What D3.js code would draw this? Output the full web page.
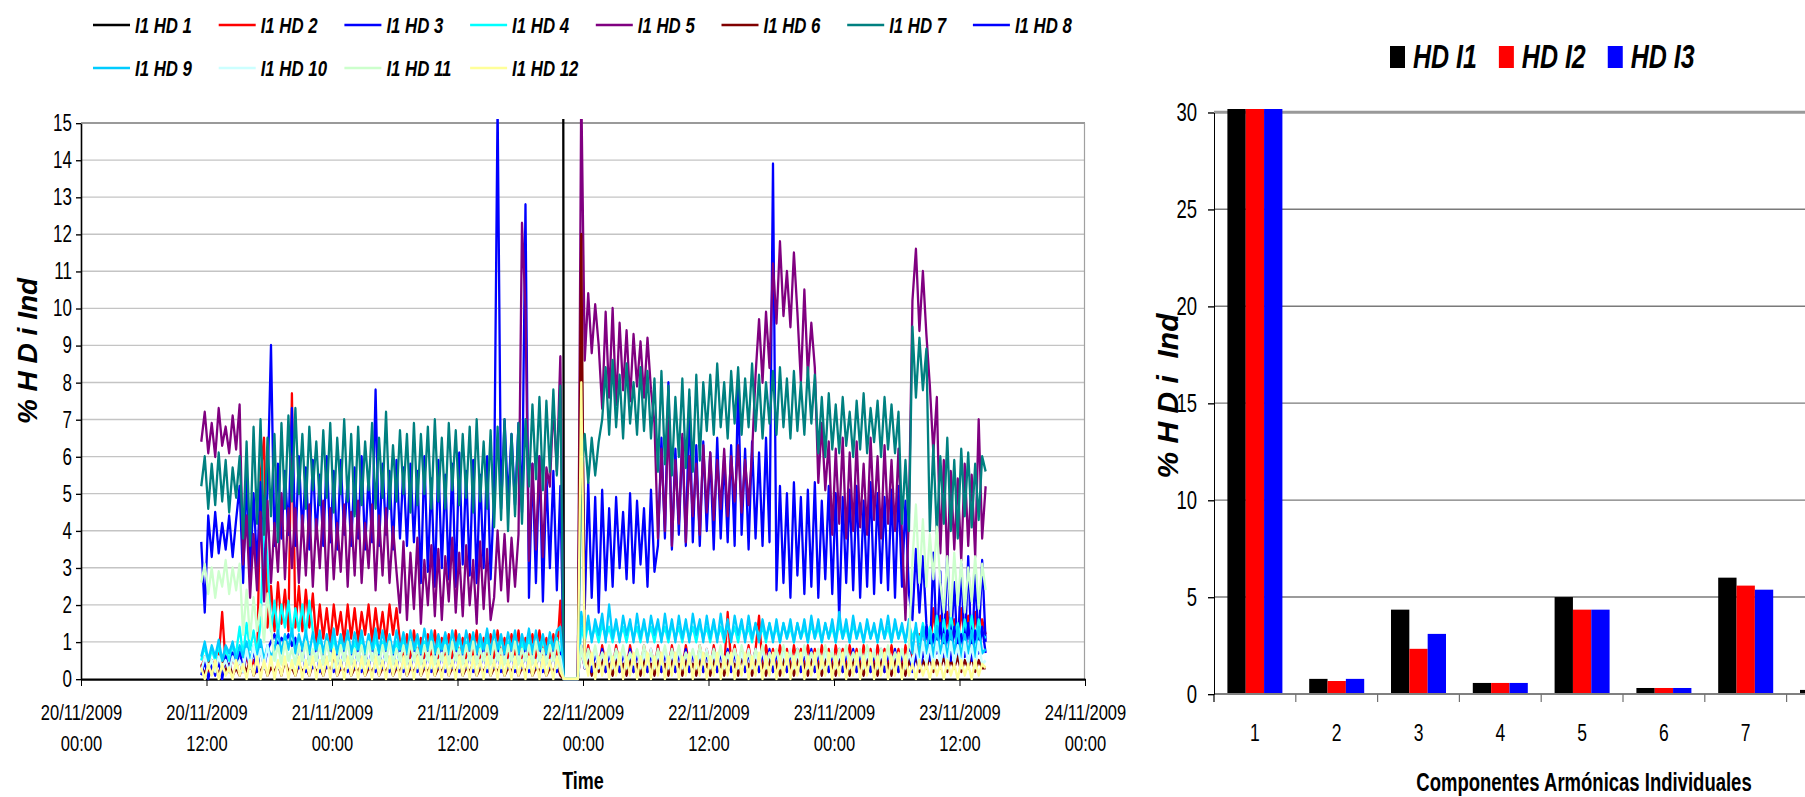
<!DOCTYPE html>
<html>
<head>
<meta charset="utf-8">
<script src="https://cdn.jsdelivr.net/npm/d3@7"></script>
<style>
  body { margin: 0; background: #fff; }
  svg { display: block; font-family: "Liberation Sans", Arial, sans-serif; }
</style>
</head>
<body>
<div id="chart"></div>
<script>
const width = 1805;
const height = 797;
const K = 1.36;            // the source picture is stretched vertically
const Y = v => v / K;      // picture row -> drawing row

// ---------- left chart data: one sample every 20 min from 20/11/2009 11:30 ----------
const seriesNames = ["I1 HD 1", "I1 HD 2", "I1 HD 3", "I1 HD 4", "I1 HD 5", "I1 HD 6",
  "I1 HD 7", "I1 HD 8", "I1 HD 9", "I1 HD 10", "I1 HD 11", "I1 HD 12"];
const sampleStart = "2009-11-20T11:30Z";
const sampleStepMinutes = 20;
const timeTicks = ["2009-11-20T00:00Z", "2009-11-20T12:00Z", "2009-11-21T00:00Z", "2009-11-21T12:00Z",
  "2009-11-22T00:00Z", "2009-11-22T12:00Z", "2009-11-23T00:00Z", "2009-11-23T12:00Z", "2009-11-24T00:00Z"];
const pctTicks = [0, 1, 2, 3, 4, 5, 6, 7, 8, 9, 10, 11, 12, 13, 14, 15];

const hd1 = [
  100,100,100,100,100,100,100,100,100,100,100,100,100,100,100,
  100,100,100,100,100,100,100,100,100,100,100,100,100,100,100,
  100,100,100,100,100,100,100,100,100,100,100,100,100,100,100,
  100,100,100,100,100,100,100,100,100,100,100,100,100,100,100,
  100,100,100,100,100,100,100,100,100,100,100,100,100,100,100,
  100,100,100,100,100,100,100,100,100,100,100,100,100,100,100,
  100,100,100,100,100,100,100,100,100,100,100,100,100,100,0,
  0,0,0,null,100,100,100,100,100,100,100,100,100,100,100,
  100,100,100,100,100,100,100,100,100,100,100,100,100,100,100,
  100,100,100,100,100,100,100,100,100,100,100,100,100,100,100,
  100,100,100,100,100,100,100,100,100,100,100,100,100,100,100,
  100,100,100,100,100,100,100,100,100,100,100,100,100,100,100,
  100,100,100,100,100,100,100,100,100,100,100,100,100,100,100,
  100,100,100,100,100,100,100,100,100,100,100,100,100,100,100,
  100,100,100,100,100,100,100,100,100,100,100,100,100,100,100,
  100];
const hd2 = [
  0.3,0.6,0.2,0.5,0.3,0.6,1.8,0.4,0.2,0.6,0.3,0.5,0.2,0.6,0.3,
  0.5,0.2,5.5,6.5,1.4,2.5,1.3,2.6,1.5,2.4,1.3,7.7,1.4,2.5,1.3,
  2.4,1.4,2.3,1.0,2.0,1.1,1.9,1.0,2.0,1.2,1.8,1.0,2.0,1.1,1.9,
  1.0,1.8,1.2,2.0,1.0,1.9,1.1,1.8,1.0,2.0,1.2,1.9,1.0,0.6,1.2,
  0.5,1.3,0.6,1.1,0.5,1.2,0.6,1.3,0.5,1.1,0.6,1.2,0.5,1.3,0.6,
  1.1,0.5,1.2,0.6,1.3,0.5,1.1,0.6,1.2,0.5,1.3,0.6,1.1,0.5,1.2,
  0.6,1.3,0.5,1.1,0.6,1.2,0.5,1.3,0.6,1.1,0.5,1.2,0.6,2.1,0,
  0,0,0,0,0.8,0.3,0.9,0.4,0.8,0.3,0.9,0.4,0.8,0.3,0.9,
  0.4,0.8,0.3,0.9,0.4,0.7,0.3,0.9,0.4,0.8,0.3,0.9,0.4,0.8,0.3,
  0.9,0.4,0.8,0.3,0.9,0.4,0.7,0.3,0.9,0.4,0.8,0.3,0.9,0.4,0.8,
  0.3,1.8,0.4,0.9,0.3,0.8,0.4,0.9,0.3,0.8,1.7,0.3,0.9,0.4,0.8,
  0.3,0.9,0.4,0.8,0.3,0.9,0.4,0.8,0.3,0.9,0.4,0.8,0.3,0.9,0.4,
  0.8,0.3,0.9,0.4,0.8,0.3,0.9,0.4,0.8,0.3,0.9,0.4,0.8,0.3,0.9,
  0.4,0.8,0.3,0.9,0.4,0.8,0.3,0.9,0.4,0.8,0.5,1.2,0.6,1.4,0.7,
  1.9,0.9,1.7,1.0,1.8,0.8,1.6,0.9,1.9,1.0,1.7,0.8,1.8,0.9,1.6,
  1.2];
const hd3 = [
  3.7,1.8,4.4,3.3,4.5,3.4,4.2,3.5,4.4,3.3,4.3,5.2,2.6,5.5,2.8,
  5.0,3.0,5.3,2.7,5.1,9.0,3.6,5.8,3.8,5.6,3.9,7.3,3.6,6.0,3.9,
  5.7,3.5,5.9,3.8,5.5,3.6,6.0,3.7,5.6,3.5,5.9,3.9,5.4,3.6,5.7,
  3.8,6.0,3.5,5.5,3.7,7.8,3.6,5.8,3.9,5.6,3.5,5.9,3.8,5.7,3.6,
  5.8,3.7,5.6,2.6,6.0,2.9,5.4,2.5,5.9,3.0,5.5,2.7,5.8,2.5,6.1,
  3.1,5.6,2.8,5.9,2.6,5.5,3.0,6.0,2.7,5.0,15.5,4.6,7.0,4.8,6.6,
  4.7,6.9,4.5,12.8,2.2,5.8,2.6,6.0,2.1,5.5,3.0,5.6,2.4,5.2,0,
  0,0,0,0,9.4,1.9,5.3,2.2,4.9,1.8,5.1,2.4,4.6,2.5,4.9,
  3.0,4.5,2.7,5.0,2.6,4.8,3.1,4.6,2.5,5.1,2.9,3.6,6.5,3.8,8.0,
  3.5,6.2,3.9,6.5,3.6,7.6,3.7,6.3,3.6,6.4,4.0,6.1,3.5,6.5,3.8,
  6.0,3.7,6.3,3.6,8.0,3.9,6.2,3.5,6.4,3.8,6.1,3.6,6.5,3.7,13.9,
  2.4,5.2,2.6,5.0,2.2,5.3,2.8,4.9,2.3,5.1,2.5,5.3,2.2,4.8,2.7,
  5.2,2.3,5.0,1.6,4.9,2.6,5.1,2.4,5.2,2.2,4.8,2.5,5.3,2.3,5.0,
  2.6,4.9,2.4,5.1,2.2,5.2,2.5,4.8,2.3,1.6,3.5,1.8,3.3,1.5,0.6,
  3.4,0.8,2.9,0.5,3.5,0.9,2.6,0.6,3.1,0.7,3.3,0.5,2.8,0.9,3.2,
  1.0];
const hd4 = [
  0.5,0.9,0.4,0.8,0.5,0.9,0.4,0.8,0.5,0.9,0.7,1.4,0.6,1.5,0.8,
  1.3,0.7,1.5,4.3,3.2,1.3,2.1,1.2,2.0,1.4,2.1,1.2,1.9,1.3,2.0,
  1.2,2.1,1.3,0.6,1.1,0.7,1.0,0.6,1.1,0.7,1.0,0.6,1.1,0.7,1.0,
  0.6,1.1,0.7,1.0,0.6,1.1,0.7,1.0,0.6,1.1,0.7,1.0,0.6,1.1,0.7,
  1.0,0.6,1.1,0.7,1.0,0.6,1.1,0.7,1.0,0.6,1.1,0.7,1.0,0.6,1.1,
  0.7,1.0,0.6,1.1,0.7,1.0,0.6,1.1,0.7,1.0,0.6,1.1,0.7,1.0,0.6,
  1.1,0.7,1.0,0.6,1.1,0.7,1.0,0.6,1.1,0.7,1.0,0.6,1.1,0.7,0,
  0,0,0,0,1.4,1.0,1.5,1.1,1.4,1.0,1.5,1.1,1.4,1.0,1.5,
  1.1,1.4,1.0,1.5,1.1,1.4,1.0,1.5,1.1,1.4,1.0,1.5,1.1,1.4,1.0,
  1.5,1.1,1.4,1.0,1.5,1.1,1.4,1.0,1.5,1.1,1.4,1.0,1.5,1.1,1.4,
  1.0,1.5,1.1,1.4,1.0,1.5,1.1,1.4,1.0,1.5,1.1,1.4,1.0,1.5,1.1,
  1.4,1.0,1.5,1.1,1.4,1.0,1.5,1.1,1.4,1.0,1.5,1.1,1.4,1.0,1.5,
  1.1,1.4,1.0,1.5,1.1,1.4,1.0,1.5,1.1,1.4,1.0,1.5,1.1,1.4,1.0,
  1.5,1.1,1.4,1.0,1.5,1.1,1.4,1.0,1.5,1.1,1.4,1.0,1.5,1.1,1.4,
  1.0,1.7,1.1,1.6,1.0,1.7,1.2,1.5,1.0,1.6,1.1,1.7,1.0,1.6,1.2,
  1.1];
const hd5 = [
  6.4,7.2,6.1,6.9,6.0,7.3,6.3,6.8,6.1,7.1,6.2,7.4,3.1,4.4,2.2,
  3.9,2.4,4.5,2.1,4.8,2.6,4.2,2.9,5.0,2.7,4.6,3.0,4.6,2.6,4.4,
  2.8,4.7,2.5,4.3,3.0,4.8,2.4,4.6,2.7,4.2,2.9,4.7,2.5,4.5,2.8,
  4.8,2.6,4.2,3.0,4.7,2.4,4.4,2.8,4.6,2.6,4.1,2.9,1.8,3.7,1.6,
  3.4,1.9,3.8,1.5,3.2,2.0,3.6,1.7,3.5,1.6,3.3,2.1,3.8,1.8,3.4,
  1.7,3.6,2.0,3.2,1.5,3.7,1.9,3.5,1.6,2.2,4.0,2.4,3.9,2.1,3.8,
  2.5,3.9,12.3,10.0,3.2,5.8,3.5,6.0,3.3,5.7,5.2,7.4,5.6,8.7,0,
  0,0,0,0,16,8.6,10.4,8.8,10.1,9.0,7.3,9.9,7.6,10.0,7.4,
  9.6,7.8,9.4,7.5,9.3,7.9,9.1,7.6,9.2,7.8,6.9,3.8,6.2,4.0,7.1,
  3.6,5.9,4.2,6.6,3.7,6.0,4.4,5.8,3.9,6.3,4.5,6.1,4.3,5.9,4.6,
  6.2,4.4,6.0,4.8,6.3,4.5,5.9,4.7,6.1,8.2,9.7,8.0,9.9,8.4,11.2,
  9.6,11.8,9.8,11.0,9.5,11.5,9.9,8.0,10.5,8.2,9.6,8.4,5.3,6.9,5.1,
  6.4,3.9,6.2,4.2,6.5,3.8,6.1,4.0,6.4,4.1,5.8,3.9,6.5,4.3,6.0,
  3.8,6.3,4.2,5.9,4.0,6.2,3.9,1.6,4.5,10.2,11.6,9.4,11.0,9.3,7.9,
  6.1,7.6,3.4,5.9,3.1,5.6,3.5,5.4,3.2,5.8,3.6,5.5,3.3,7.0,3.8,
  5.2];
const hd6 = [
  0.4,0.1,0.5,0.2,0.4,0.1,0.5,0.2,0.4,0.1,0.3,0.1,0.4,0.2,0.5,
  0.1,0.3,0.2,0.4,0.1,0.3,0.2,0.4,0.1,0.5,0.2,0.3,0.1,0.4,0.2,
  0.3,0.1,0.4,0.2,0.3,0.1,0.4,0.2,0.5,0.1,0.3,0.2,0.4,0.1,0.3,
  0.2,0.4,0.1,0.3,0.2,0.4,0.1,0.3,0.2,0.4,0.1,0.3,0.2,0.4,0.1,
  0.3,0.2,0.4,0.1,0.3,0.2,0.4,0.1,0.3,0.2,0.4,0.1,0.3,0.2,0.4,
  0.1,0.3,0.2,0.4,0.1,0.3,0.2,0.4,0.1,0.3,0.2,0.4,0.1,0.3,0.2,
  0.4,0.1,0.3,0.2,0.4,0.1,0.3,0.2,0.4,0.1,0.3,0.2,0.4,0.1,0,
  0,0,0,0,12,0.3,0.5,0.1,0.4,0.2,0.5,0.2,0.4,0.1,0.5,
  0.2,0.4,0.1,0.5,0.2,0.4,0.1,0.5,0.2,0.4,0.1,0.5,0.2,0.4,0.1,
  0.5,0.2,0.4,0.1,0.5,0.2,0.4,0.1,0.5,0.2,0.4,0.1,0.5,0.2,0.4,
  0.1,0.5,0.2,0.4,0.1,0.6,0.2,0.4,0.1,0.5,0.2,0.4,0.1,0.5,0.2,
  0.4,0.1,0.5,0.2,0.4,0.1,0.5,0.2,0.4,0.1,0.5,0.2,0.4,0.1,0.5,
  0.2,0.4,0.1,0.5,0.2,0.4,0.1,0.5,0.2,0.4,0.1,0.5,0.2,0.4,0.1,
  0.5,0.2,0.4,0.1,0.5,0.2,0.4,0.1,0.5,0.3,0.6,0.2,0.5,0.3,0.6,
  0.2,0.5,0.3,0.6,0.2,0.5,0.3,0.6,0.2,0.5,0.3,0.6,0.2,0.5,0.3,
  0.3];
const hd7 = [
  5.2,6.0,4.6,5.8,4.7,6.1,4.8,5.9,4.5,5.7,4.9,6.0,3.8,6.4,3.6,
  6.8,4.2,7.0,3.9,6.5,4.4,6.6,3.7,6.9,4.6,7.1,4.8,7.3,5.0,6.6,
  4.6,6.8,5.1,6.4,4.7,6.7,4.9,6.9,4.5,6.5,5.0,7.0,4.8,6.6,4.4,
  6.8,4.7,6.4,5.1,6.9,4.6,6.5,4.9,7.2,4.6,6.3,4.8,6.7,5.0,6.6,
  4.5,6.9,4.7,6.6,5.0,6.8,4.6,7.0,4.8,6.5,4.6,6.9,5.1,6.7,4.7,
  6.6,4.9,6.8,4.5,7.0,4.8,6.4,4.6,6.7,4.1,6.8,4.3,7.0,4.0,6.6,
  4.4,6.9,4.2,7.0,5.2,7.4,5.4,7.6,5.1,7.5,5.6,7.8,5.5,7.9,0,
  0,0,0,0,5.4,6.6,5.3,6.5,5.5,6.4,7.0,8.4,6.6,8.6,6.8,
  8.2,6.5,8.5,6.9,8.0,6.6,8.4,6.7,8.3,6.5,8.1,5.6,8.3,5.8,7.9,
  5.5,7.6,6.0,8.1,5.7,7.8,5.6,8.2,5.9,8.0,6.7,8.2,6.6,8.5,6.8,
  8.0,6.5,8.3,6.9,8.4,6.6,8.1,6.8,8.5,6.7,8.2,6.5,8.0,6.9,8.3,
  6.6,8.4,6.8,8.1,6.5,8.3,6.7,8.0,6.6,8.4,6.9,8.2,6.1,7.6,6.0,
  7.7,6.2,7.4,6.1,7.6,6.3,7.2,6.0,7.5,6.2,7.7,6.1,7.3,6.4,7.5,
  6.0,7.6,6.2,7.4,6.1,7.2,4.2,5.9,4.0,9.5,7.6,9.2,7.8,8.9,4.0,
  6.3,3.9,6.0,4.2,6.5,4.0,5.9,3.8,6.2,4.4,6.1,4.1,5.8,4.3,6.0,
  5.6];
const hd8 = [
  0.1,0.5,0.0,0.4,0.1,0.5,0.0,0.6,0.2,0.7,0.3,0.8,0.2,0.7,0.3,
  0.8,0.2,0.9,0.3,0.8,1.0,1.2,0.9,1.1,1.0,1.2,0.9,1.1,0.3,0.8,
  0.2,0.7,0.3,0.8,0.2,0.7,0.3,0.8,0.2,0.7,0.3,0.8,0.2,0.7,0.3,
  0.8,0.2,0.7,0.3,0.8,0.2,0.7,0.3,0.8,0.2,0.7,0.3,0.8,0.2,0.7,
  0.3,0.8,0.2,0.7,0.3,0.8,0.2,0.7,0.3,0.8,0.2,0.7,0.3,0.8,0.2,
  0.7,0.3,0.8,0.2,0.7,0.3,0.8,0.2,0.7,0.3,0.8,0.2,0.7,0.3,0.8,
  0.2,0.7,0.3,0.8,0.2,0.7,0.3,0.8,0.2,0.7,0.3,0.8,0.2,0.7,0,
  0,0,0,0,0.9,0.3,0.8,0.2,0.7,0.3,0.8,0.2,0.7,0.3,0.8,
  0.2,0.7,0.3,0.8,0.2,0.7,0.3,0.8,0.2,0.7,0.3,0.8,0.2,0.7,0.3,
  0.8,0.2,0.7,0.3,0.8,0.2,0.7,0.3,0.8,0.2,0.7,0.3,0.8,0.2,0.7,
  0.3,0.8,0.2,0.7,0.3,0.8,0.2,0.7,0.3,0.8,0.2,0.7,0.3,0.8,0.2,
  0.7,0.3,0.8,0.2,0.7,0.3,0.8,0.2,0.7,0.3,0.8,0.2,0.7,0.3,0.8,
  0.2,0.7,0.3,0.8,0.2,0.7,0.3,0.8,0.2,0.7,0.3,0.8,0.2,0.7,0.3,
  0.8,0.2,0.7,0.3,0.8,0.2,0.7,0.3,0.8,0.2,0.7,0.3,0.6,1.4,0.5,
  1.2,0.7,1.5,0.6,1.3,0.5,1.4,0.7,1.2,0.6,1.5,0.5,1.3,0.7,1.4,
  0.7];
const hd9 = [
  0.6,1.0,0.5,0.9,0.6,1.05,0.5,0.9,0.7,1.0,0.5,0.9,0.6,1.0,0.5,
  0.9,0.6,1.05,0.5,0.9,0.6,0.8,1.3,0.7,1.2,0.8,1.35,0.7,1.2,0.8,
  1.3,0.7,1.25,0.8,1.3,0.7,1.2,0.8,1.35,0.7,1.2,0.8,1.3,0.7,1.25,
  0.8,1.3,0.7,1.2,0.8,1.35,0.7,1.3,0.8,1.2,0.7,1.3,0.8,1.25,0.7,
  1.3,0.8,1.2,0.7,1.35,0.8,1.3,0.7,1.2,0.8,1.25,0.7,1.3,0.8,1.2,
  0.7,1.3,0.8,1.25,0.7,1.2,0.8,1.35,0.7,1.3,0.8,1.2,0.7,1.25,0.8,
  1.3,0.7,1.2,0.8,1.35,0.7,1.3,0.8,1.2,0.7,1.25,0.8,1.3,1.4,0,
  0,0,0,0,1.8,1.1,1.7,1.0,1.6,1.2,1.75,1.0,2.0,1.1,1.6,
  1.0,1.7,1.2,1.6,1.0,1.75,1.1,1.6,1.0,1.7,1.2,1.6,1.0,1.75,1.1,
  1.6,1.0,1.7,1.1,1.6,1.0,1.75,1.2,1.6,1.0,1.7,1.1,1.6,1.0,1.75,
  1.1,1.6,1.0,1.7,1.2,1.6,1.0,1.7,1.1,1.5,1.0,1.6,1.1,1.5,1.0,
  1.6,1.0,1.5,1.1,1.6,1.0,1.5,1.1,1.6,1.0,1.7,1.1,1.6,1.0,1.5,
  1.1,1.6,1.0,1.8,1.1,1.6,1.0,1.7,1.1,1.5,1.0,1.6,1.1,1.5,1.0,
  1.6,1.1,1.7,1.0,1.6,1.1,1.5,1.0,1.6,0.7,1.5,0.6,1.4,0.7,1.3,
  0.6,1.4,0.7,1.2,0.6,1.3,0.7,1.4,0.6,1.2,0.7,1.3,0.6,1.4,0.7,
  0.8];
const hd10 = [
  0.2,0.6,0.3,0.5,0.2,0.6,0.3,0.5,0.2,0.6,0.3,0.5,0.2,0.8,0.3,
  0.9,0.4,0.8,0.3,0.9,0.4,0.7,0.3,0.6,0.4,0.7,0.3,0.6,0.4,0.7,
  0.3,0.6,0.4,0.7,0.3,0.6,0.4,0.7,0.3,0.6,0.4,0.7,0.3,0.6,0.4,
  0.7,0.3,0.6,0.4,0.7,0.3,0.6,0.4,0.7,0.3,0.6,0.4,0.7,0.3,0.6,
  0.4,0.7,0.3,0.6,0.4,0.7,0.3,0.6,0.4,0.7,0.3,0.6,0.4,0.7,0.3,
  0.6,0.4,0.7,0.3,0.6,0.4,0.7,0.3,0.6,0.4,0.7,0.3,0.6,0.4,0.7,
  0.3,0.6,0.4,0.7,0.3,0.6,0.4,0.7,0.3,0.6,0.4,0.7,0.3,0.6,0,
  0,0,0,0,0.8,0.3,0.7,0.4,0.8,0.3,0.7,0.4,0.8,0.3,0.7,
  0.4,0.8,0.3,0.7,0.4,0.8,0.3,0.7,0.4,0.8,0.3,0.7,0.4,0.8,0.3,
  0.7,0.4,0.8,0.3,0.7,0.4,0.8,0.3,0.7,0.4,0.8,0.3,0.7,0.4,0.8,
  0.3,0.7,0.4,0.8,0.3,0.7,0.4,0.8,0.3,0.7,0.4,0.8,0.3,0.7,0.4,
  0.8,0.3,0.7,0.4,0.8,0.3,0.7,0.4,0.8,0.3,0.7,0.4,0.8,0.3,0.7,
  0.4,0.8,0.3,0.7,0.4,0.8,0.3,0.7,0.4,0.8,0.3,0.7,0.4,0.8,0.3,
  0.7,0.4,0.8,0.3,0.7,0.4,0.8,0.3,0.7,0.4,0.9,0.3,1.0,0.4,0.9,
  0.3,1.0,0.4,0.9,0.3,1.0,0.4,0.9,0.3,1.0,0.4,0.9,0.3,1.0,0.4,
  0.5];
const hd11 = [
  2.6,3.1,2.3,3.0,2.2,2.9,2.5,3.2,2.3,3.0,2.4,3.1,1.2,2.4,1.1,
  2.2,1.3,2.0,1.0,2.3,1.4,0.5,0.9,0.4,1.0,0.5,0.8,0.4,0.9,0.5,
  1.0,0.4,0.8,0.5,0.9,0.4,1.0,0.5,0.8,0.4,0.9,0.5,1.0,0.4,0.8,
  0.5,0.9,0.4,1.0,0.5,0.8,0.4,0.9,0.5,1.0,0.4,0.8,0.5,0.9,0.4,
  1.0,0.5,0.8,0.4,0.9,0.5,1.0,0.4,0.8,0.5,0.9,0.4,1.0,0.5,0.8,
  0.4,0.9,0.5,1.0,0.4,0.8,0.5,0.9,0.4,1.0,0.5,0.8,0.4,0.9,0.5,
  1.0,0.4,0.8,0.5,0.9,0.4,1.0,0.5,0.8,0.4,0.9,0.5,1.0,0.4,0,
  0,0,0,0,0.9,0.4,0.8,0.5,0.9,0.4,0.7,0.5,0.9,0.4,0.8,
  0.5,0.9,0.4,0.7,0.5,0.8,0.4,0.9,0.5,0.7,0.4,0.8,0.5,0.9,0.4,
  0.8,0.5,0.9,0.4,0.7,0.5,0.8,0.4,0.9,0.5,0.7,0.4,0.8,0.5,0.9,
  0.4,0.7,0.5,0.8,0.4,0.9,0.5,0.7,0.4,0.8,0.5,0.9,0.4,0.7,0.5,
  0.8,0.4,0.9,0.5,0.7,0.4,0.8,0.5,0.9,0.4,0.7,0.5,0.8,0.4,0.9,
  0.5,0.7,0.4,0.8,0.5,0.9,0.4,0.7,0.5,0.8,0.4,0.9,0.5,0.7,0.4,
  0.8,0.5,0.9,0.4,0.7,0.5,0.8,0.4,0.9,3.2,4.7,2.6,4.3,2.5,3.9,
  2.7,4.1,2.6,1.8,3.3,1.7,3.4,2.0,3.2,1.8,3.0,2.1,3.3,1.9,3.1,
  2.4];
const hd12 = [
  0.3,0.0,0.4,0.1,0.5,0.0,0.4,0.1,0.3,0.0,0.5,0.1,0.4,0.0,0.5,
  0.1,0.6,0.0,0.5,0.1,0.6,0.0,0.5,0.1,0.6,0.0,0.5,0.1,0.6,0.0,
  0.5,0.1,0.6,0.0,0.5,0.1,0.6,0.0,0.8,0.1,0.5,0.0,0.6,0.1,0.5,
  0.0,0.6,0.1,0.5,0.0,0.6,0.1,0.5,0.0,0.6,0.1,0.5,0.0,0.6,0.1,
  0.5,0.0,0.6,0.1,0.5,0.0,0.6,0.1,0.5,0.0,0.6,0.1,0.5,0.0,0.6,
  0.1,0.5,0.0,0.6,0.1,0.5,0.0,0.6,0.1,0.5,0.0,0.6,0.1,0.5,0.0,
  0.6,0.1,0.5,0.0,0.6,0.1,0.5,0.0,0.6,0.1,0.5,0.0,0.6,0.2,0,
  0,0,0,0,8.0,0.6,0.1,0.7,0.0,0.6,0.1,0.7,0.0,0.6,0.1,
  0.7,0.0,0.6,0.1,0.7,0.0,0.6,0.1,0.7,0.0,0.6,0.1,0.7,0.0,0.6,
  0.1,0.7,0.0,0.6,0.1,0.7,0.0,0.6,0.1,0.7,0.0,0.6,0.1,0.7,0.0,
  0.6,0.1,0.7,0.0,0.6,0.1,0.7,0.0,0.6,0.1,0.7,0.0,0.6,0.1,0.7,
  0.0,0.6,0.1,0.7,0.0,0.6,0.1,0.7,0.0,0.6,0.1,0.7,0.0,0.6,0.1,
  0.7,0.0,0.6,0.1,0.7,0.0,0.6,0.1,0.7,0.0,0.6,0.1,0.7,0.0,0.6,
  0.1,0.7,0.0,0.6,0.1,0.7,0.0,0.6,0.1,0.4,0.0,0.5,0.1,0.4,0.0,
  0.5,0.1,0.4,0.0,0.5,0.1,0.4,0.0,0.5,0.1,0.4,0.0,0.5,0.1,0.4,
  0.3];

// ---------- right chart data ----------
const harmonics = ["1", "2", "3", "4", "5", "6", "7", "8"];
const barNames = ["HD I1", "HD I2", "HD I3"];
const hdI1 = [100, 0.78, 4.35, 0.57, 5.0, 0.31, 6.0, 0.21];
const hdI2 = [100, 0.67, 2.33, 0.57, 4.35, 0.31, 5.59, 0.2];
const hdI3 = [100, 0.78, 3.10, 0.57, 4.35, 0.31, 5.38, 0.2];
const barTicks = [0, 5, 10, 15, 20, 25, 30];

const seriesValues = [hd1, hd2, hd3, hd4, hd5, hd6, hd7, hd8, hd9, hd10, hd11, hd12];
const lineColors = ["#000000", "#ff0000", "#0000ff", "#00ffff", "#800080", "#800000",
  "#008080", "#0000ff", "#00ccff", "#ccffff", "#ccffcc", "#ffff99"];
const barValues = [hdI1, hdI2, hdI3];
const barColors = ["#000000", "#ff0000", "#0000ff"];

const svg = d3.select("#chart")
  .append("svg")
  .attr("width", width)
  .attr("height", height)
  .attr("viewBox", `0 0 ${width} ${height / K}`)
  .attr("preserveAspectRatio", "none");

const styleTicks = (g, size) => {
  g.attr("font-family", null).attr("font-size", size);
  g.selectAll("text").attr("fill", "#000");
  g.selectAll(".tick line").attr("stroke", "#000");
};

// ================= left chart =================
const x = d3.scaleUtc()
  .domain([new Date(timeTicks[0]), new Date(timeTicks[timeTicks.length - 1])])
  .range([81, 1085]);
const y = d3.scaleLinear().domain([0, 15]).range([Y(679), Y(123)]);
const t0 = new Date(sampleStart).getTime();
const timeAt = i => new Date(t0 + i * sampleStepMinutes * 60000);

svg.append("g")
  .selectAll("line")
  .data(pctTicks.filter(v => v > 0 && v < 15))
  .join("line")
  .attr("x1", 81).attr("x2", 1085)
  .attr("y1", d => y(d)).attr("y2", d => y(d))
  .attr("stroke", "#c4c4c4")
  .attr("stroke-width", 1);

svg.append("line")
  .attr("x1", 81).attr("x2", 1085)
  .attr("y1", y(15)).attr("y2", y(15))
  .attr("stroke", "#9a9a9a").attr("stroke-width", 1.5);
svg.append("line")
  .attr("x1", 1084.5).attr("x2", 1084.5)
  .attr("y1", y(15)).attr("y2", y(0))
  .attr("stroke", "#a0a0a0").attr("stroke-width", 1.2);

const yAxis = svg.append("g")
  .attr("transform", "translate(81,0)")
  .call(d3.axisLeft(y).tickValues(pctTicks).tickSize(5).tickSizeOuter(0).tickPadding(4));
styleTicks(yAxis, 17);
yAxis.select(".domain").attr("stroke", "#000").attr("stroke-width", 1.6);

const xAxis = svg.append("g")
  .attr("transform", `translate(0,${y(0)})`)
  .call(d3.axisBottom(x).tickValues(timeTicks.map(d => new Date(d)))
    .tickSize(Y(7)).tickSizeOuter(0).tickFormat(""));
styleTicks(xAxis, 16.5);
xAxis.select(".domain").attr("stroke", "#000").attr("stroke-width", 1.6);
xAxis.selectAll(".tick text").remove();
xAxis.selectAll(".tick").append("text")
  .attr("y", Y(712 - 679)).attr("dy", "0.35em")
  .attr("text-anchor", "middle").attr("fill", "#000")
  .text(d => d3.utcFormat("%d/%m/%Y")(d));
xAxis.selectAll(".tick").append("text")
  .attr("y", Y(743 - 679)).attr("dy", "0.35em")
  .attr("text-anchor", "middle").attr("fill", "#000")
  .text(d => d3.utcFormat("%H:%M")(d));

svg.append("clipPath").attr("id", "plotClip")
  .append("rect")
  .attr("x", 81).attr("y", Y(119))
  .attr("width", 1004).attr("height", Y(679) - Y(119) + 1);

const line = d3.line()
  .defined(d => d != null)
  .x((d, i) => x(timeAt(i)))
  .y(d => y(d));

svg.append("g")
  .attr("clip-path", "url(#plotClip)")
  .selectAll("path")
  .data(seriesValues)
  .join("path")
  .attr("d", d => line(d))
  .attr("fill", "none")
  .attr("stroke", (d, i) => lineColors[i])
  .attr("stroke-width", 2.3)
  .attr("stroke-linejoin", "round");

svg.append("text")
  .attr("x", 583).attr("y", Y(780)).attr("dy", "0.35em")
  .attr("text-anchor", "middle")
  .attr("font-size", 18).attr("font-weight", "bold")
  .text("Time");

svg.append("text")
  .attr("transform", `translate(27,${Y(351)}) scale(1,${1 / K}) rotate(-90)`)
  .attr("dy", "0.35em")
  .attr("text-anchor", "middle")
  .attr("font-size", 28).attr("font-weight", "bold").attr("font-style", "italic")
  .text("% H D i Ind");

// legend, 8 per row
const legend = svg.append("g")
  .selectAll("g")
  .data(seriesNames)
  .join("g")
  .attr("transform", (d, i) => `translate(${93 + (i % 8) * 125.7},${Y(25 + Math.floor(i / 8) * 43)})`);
legend.append("line")
  .attr("x1", 0).attr("x2", 37)
  .attr("stroke", (d, i) => lineColors[i])
  .attr("stroke-width", 1.8);
legend.append("text")
  .attr("x", 42).attr("dy", "0.35em")
  .attr("font-size", 16.8).attr("font-weight", "bold").attr("font-style", "italic")
  .text(d => d);

// ================= right chart =================
const x0 = d3.scaleBand().domain(harmonics).range([1214, 1214 + harmonics.length * 81.8]);
const x1 = d3.scaleBand().domain(barNames).range([13.4, 68.4]);
const y2 = d3.scaleLinear().domain([0, 30]).range([Y(694), Y(112.3)]);

svg.append("g")
  .selectAll("line")
  .data(barTicks.filter(v => v > 0 && v < 30))
  .join("line")
  .attr("x1", 1214).attr("x2", width)
  .attr("y1", d => y2(d)).attr("y2", d => y2(d))
  .attr("stroke", "#7a7a7a").attr("stroke-width", 1);
svg.append("line")
  .attr("x1", 1214).attr("x2", width)
  .attr("y1", y2(30)).attr("y2", y2(30))
  .attr("stroke", "#999").attr("stroke-width", 2.2);

svg.append("clipPath").attr("id", "barClip")
  .append("rect")
  .attr("x", 1214).attr("y", Y(109))
  .attr("width", width).attr("height", Y(694) - Y(109));

svg.append("g")
  .attr("clip-path", "url(#barClip)")
  .selectAll("g")
  .data(barValues)
  .join("g")
  .attr("fill", (d, i) => barColors[i])
  .each(function (vals, si) {
    d3.select(this).selectAll("rect")
      .data(vals)
      .join("rect")
      .attr("x", (v, hi) => x0(harmonics[hi]) + x1(barNames[si]))
      .attr("y", v => y2(v))
      .attr("width", x1.bandwidth())
      .attr("height", v => y2(0) - y2(v));
  });

svg.append("line")
  .attr("x1", 1214).attr("x2", width)
  .attr("y1", y2(0)).attr("y2", y2(0))
  .attr("stroke", "#808080").attr("stroke-width", 1.6);

const y2Axis = svg.append("g")
  .attr("transform", "translate(1214,0)")
  .call(d3.axisLeft(y2).tickValues(barTicks).tickSize(6).tickSizeOuter(0).tickPadding(11));
styleTicks(y2Axis, 18.5);
y2Axis.select(".domain").attr("stroke", "#000").attr("stroke-width", 1);

const catAxis = svg.append("g")
  .attr("transform", `translate(0,${y2(0)})`);
catAxis.selectAll("line")
  .data(harmonics)
  .join("line")
  .attr("x1", d => x0(d)).attr("x2", d => x0(d))
  .attr("y1", 0).attr("y2", Y(8))
  .attr("stroke", (d, i) => i === 0 ? "#000" : "#707070")
  .attr("stroke-width", 1.2);
// only the labels that fall inside the picture
catAxis.selectAll("text")
  .data(harmonics.filter(d => x0(d) + x0.bandwidth() / 2 + 8 < width))
  .join("text")
  .attr("x", d => x0(d) + x0.bandwidth() / 2)
  .attr("y", Y(733 - 694)).attr("dy", "0.35em")
  .attr("text-anchor", "middle")
  .attr("font-size", 17.5)
  .text(d => d);

svg.append("text")
  .attr("x", 1584).attr("y", Y(782)).attr("dy", "0.35em")
  .attr("text-anchor", "middle")
  .attr("font-size", 18.5).attr("font-weight", "bold")
  .text("Componentes Armónicas Individuales");

svg.append("text")
  .attr("transform", `translate(1167,${Y(396)}) scale(1,${1 / K}) rotate(-90)`)
  .attr("dy", "0.35em")
  .attr("text-anchor", "middle")
  .style("white-space", "pre")
  .attr("font-size", 30).attr("font-weight", "bold").attr("font-style", "italic")
  .text("% H D i  Ind");

// legend on one row
const barLegend = svg.append("g");
let lx = 1390;
barNames.forEach((name, i) => {
  barLegend.append("rect")
    .attr("x", lx).attr("y", Y(46))
    .attr("width", 15).attr("height", Y(22))
    .attr("fill", barColors[i]);
  const t = barLegend.append("text")
    .attr("x", lx + 23).attr("y", Y(56)).attr("dy", "0.35em")
    .attr("font-size", 25).attr("font-weight", "bold").attr("font-style", "italic")
    .text(name);
  lx += 23 + t.node().getComputedTextLength() + 22;
});
</script>
</body>
</html>
